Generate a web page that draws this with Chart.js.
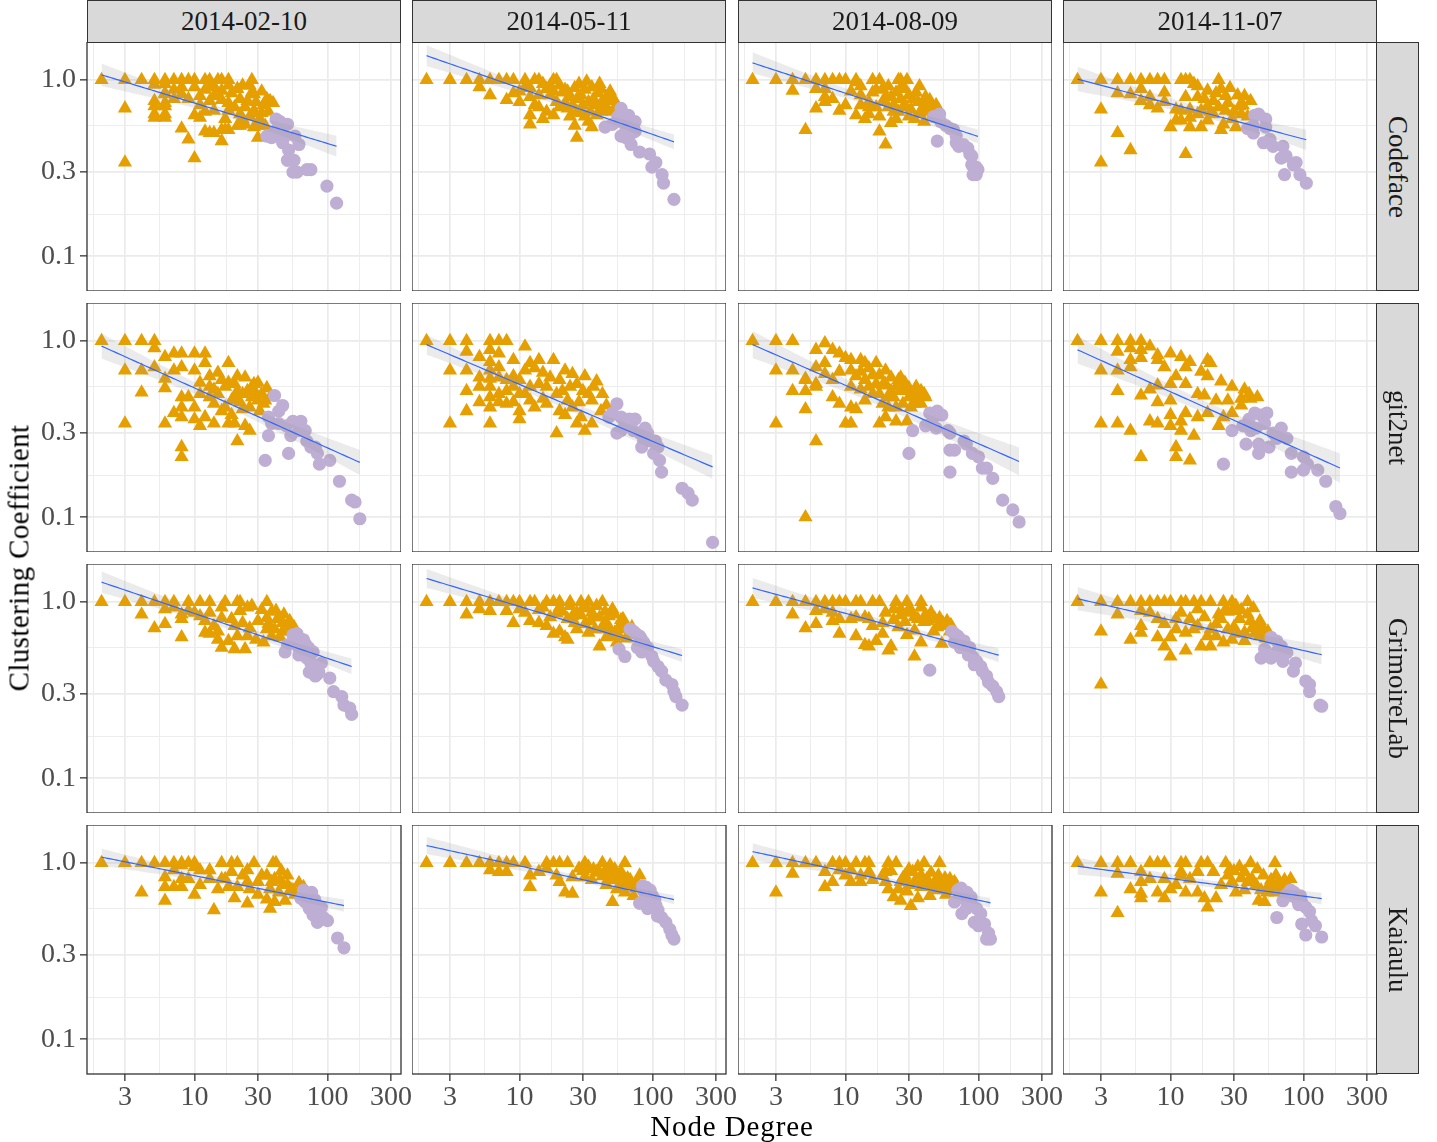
<!DOCTYPE html>
<html>
<head>
<meta charset="utf-8">
<script src="https://cdn.jsdelivr.net/npm/chart.js@4.4.1/dist/chart.umd.min.js"></script>
<style>
  body { margin: 0; background: #fff; width: 1437px; height: 1142px; position: relative; overflow: hidden;
         font-family: "Liberation Serif", serif; }
  .box { position: absolute; }
  .strip { position: absolute; background: #d9d9d9; border: 1.3px solid #333; box-sizing: border-box;
           color: #1a1a1a; font-size: 27px; display: flex; align-items: center; justify-content: center; }
  .strip.side span { writing-mode: vertical-rl; }
  .title { position: absolute; color: #000; font-size: 29px; white-space: nowrap; }
</style>
</head>
<body>
<script>
// facets
const projects = ['Codeface', 'git2net', 'GrimoireLab', 'Kaiaulu'];
const dates = ['2014-02-10', '2014-05-11', '2014-08-09', '2014-11-07'];

// axis breaks (log10 scales)
const xTicks = [3, 10, 30, 100, 300];
const xMinor = [1.73, 5.48, 17.3, 54.8, 173];
const yTicks = [0.1, 0.3, 1.0];
const yTickLabels = ['0.1', '0.3', '1.0'];
const yMinor = [0.173, 0.548];
const xRange = [1.555, 357];
const yRange = [0.0635, 1.64];

// [degree, clustering] for low degree nodes (triangles) and hubs (circles)
const codeface1Low = [[2,1],[3,1],[4,1],[5,1],[6,1],[7,1],[8,1],[9,1],[10,1],[12,1],[13,1],[15,1],[16,1],[18,1],[27,1],
  [3,0.69],[3,0.34],[10,0.36],[5,0.94],[6,0.95],[6,0.84],[5,0.76],[6,0.74],[5,0.64],[6,0.64],[7,0.88],[8,0.91],[8,0.83],
  [7,0.78],[9,0.78],[10,0.91],[11,0.81],[13,0.91],[14,0.81],[16,0.87],[18,0.93],[21,0.89],[23,0.93],[26,0.93],[28,0.83],
  [32,0.86],[35,0.78],[39,0.74],[13,0.76],[16,0.77],[18,0.74],[22,0.78],[25,0.76],[10,0.63],[11,0.61],[12,0.66],[14,0.67],
  [18,0.67],[22,0.64],[28,0.65],[32,0.65],[8,0.53],[9,0.46],[12,0.51],[13,0.5],[16,0.45],[17,0.52],[21,0.55],[24,0.56],
  [28,0.54],[30,0.47],[5,0.71],[5,0.61],[6,0.61],[6,0.71],[6,0.83],[30,0.55],[37,0.76],[28,0.67],[14,0.5],[16,0.52],
  [18,0.52],[22,0.55],[11,0.72],[12,0.88],[14,0.92],[15,0.83],[17,0.6],[19,0.84],[20,0.7],[23,0.6],[24,0.7],[26,0.62],
  [27,0.85],[29,0.75],[31,0.6],[33,0.72],[34,0.55],[36,0.66]];
const codeface1Hub = [[35,0.48],[38,0.47],[40,0.5],[41,0.6],[43,0.55],[44,0.58],[50,0.56],[48,0.48],[57,0.48],[61,0.43],
  [46,0.44],[51,0.4],[50,0.35],[56,0.35],[55,0.3],[59,0.3],[70,0.31],[75,0.31],[99,0.25],[117,0.2]];

const codeface2Low = [[2,1],[3,1],[4,1],[5,1],[6,1],[7,1],[8,1],[9,1],[11,1],[13,1],[14,1],[18,1],[19,1],
  [5,0.91],[6,0.82],[8,0.77],[10,0.75],[12,0.63],[12,0.56],[15,0.6],[18,0.63],[27,0.47],[35,0.54],[23,0.69],[29,0.82],
  [35,0.91],[41,0.89],[49,0.78],[54,0.72],[33,0.75],[41,0.66],[23,0.86],[20,0.93],[16,0.89],[14,0.82],[10,0.86],[9,0.84],
  [11,0.91],[13,0.72],[19,0.75],[27,0.66],[31,0.62],[38,0.63],[44,0.72],[50,0.66],[15,0.95],[17,0.93],[21,0.85],[24,0.8],
  [26,0.9],[30,0.72],[36,0.78],[45,0.8],[22,0.74],[17,0.82],[12,0.8],[28,0.95],[32,0.98],[40,0.95],
  [12,0.9],[14,0.7],[16,0.66],[18,0.86],[20,0.7],[22,0.88],[24,0.62],[25,0.72],[27,0.78],[29,0.65],[31,0.88],[34,0.66],
  [37,0.72],[39,0.84],[42,0.76],[46,0.68],[48,0.86],[52,0.76],[33,0.58],[26,0.55]];
const codeface2Hub = [[58,0.69],[60,0.6],[67,0.55],[74,0.51],[44,0.54],[54,0.58],[63,0.47],[58,0.48],[69,0.43],[80,0.39],
  [95,0.38],[106,0.34],[99,0.32],[118,0.29],[121,0.26],[145,0.21],[50,0.56],[66,0.63],[74,0.58],[63,0.52],
  [55,0.62],[62,0.58],[65,0.55],[70,0.5],[72,0.54]];

const codeface3Low = [[2,1],[3,1],[4,1],[5,1],[6,1],[7,1],[8,1],[9,1],[10,1],[12,1],[16,1],[18,1],[25,1],[26,1],[29,1],
  [4,0.87],[6,0.69],[9,0.67],[5,0.52],[6,0.89],[7,0.8],[7,0.75],[8,0.78],[10,0.72],[7,0.89],[12,0.97],[14,0.6],[12,0.63],
  [15,0.64],[13,0.82],[16,0.85],[19,0.89],[18,0.51],[20,0.43],[22,0.57],[23,0.66],[26,0.78],[28,0.89],[30,0.82],[35,0.75],
  [39,0.72],[43,0.77],[48,0.72],[39,0.58],[33,0.6],[25,0.66],[23,0.72],[19,0.75],[15,0.75],[13,0.72],[20,0.8],[24,0.85],
  [27,0.7],[31,0.68],[34,0.85],[36,0.65],[42,0.68],[17,0.7],[21,0.92],[45,0.62],
  [11,0.86],[13,0.92],[15,0.7],[17,0.88],[18,0.62],[21,0.7],[22,0.8],[24,0.6],[26,0.9],[28,0.72],[30,0.62],[32,0.78],
  [36,0.92],[38,0.66],[40,0.8],[44,0.7],[47,0.64],[50,0.68]];
const codeface3Hub = [[46,0.62],[51,0.64],[52,0.58],[57,0.55],[61,0.53],[65,0.52],[68,0.48],[49,0.45],[68,0.44],[71,0.42],
  [77,0.43],[83,0.41],[86,0.38],[89,0.37],[89,0.33],[96,0.32],[96,0.29],[99,0.31],[91,0.29]];

const codeface4Low = [[2,1],[3,1],[4,1],[5,1],[6,1],[7,1],[8,1],[9,1],[13,1],[14,1],[23,1],
  [3,0.68],[4,0.5],[5,0.4],[3,0.34],[13,0.38],[4,0.84],[5,0.83],[6,0.89],[6,0.76],[7,0.72],[8,0.69],[7,0.8],[9,0.85],
  [9,0.75],[11,0.68],[11,0.59],[10,0.54],[12,0.67],[14,0.54],[14,0.61],[12,1],[15,0.95],[16,0.8],[17,0.67],[17,0.54],
  [19,0.59],[21,0.76],[24,0.89],[26,0.81],[24,0.52],[25,0.56],[26,0.67],[29,0.6],[31,0.54],[33,0.71],[36,0.81],[34,0.64],
  [21,0.64],[19,0.71],[19,0.87],[16,0.64],[12,0.59],[14,0.68],[13,0.8],
  [16,0.92],[18,0.78],[20,0.66],[22,0.84],[23,0.7],[27,0.74],[28,0.9],[30,0.66],[32,0.82],[35,0.72],[38,0.62],[40,0.76]];
const codeface4Hub = [[43,0.63],[52,0.6],[42,0.55],[38,0.53],[42,0.5],[50,0.44],[56,0.46],[59,0.42],[70,0.42],[74,0.37],
  [68,0.36],[88,0.34],[84,0.33],[72,0.29],[94,0.29],[105,0.26],[46,0.64],[52,0.54]];

const git2net1Low = [[2,1],[3,1],[4,1],[5,1],[5,0.91],[6,0.81],[7,0.85],[8,0.85],[10,0.85],[12,0.85],[3,0.68],[4,0.68],
  [5,0.71],[6,0.61],[6,0.54],[4,0.51],[3,0.34],[6,0.34],[8,0.37],[8,0.25],[8,0.22],[7,0.68],[8,0.71],[10,0.68],[12,0.75],
  [13,0.63],[14,0.53],[18,0.75],[21,0.63],[28,0.57],[35,0.54],[30,0.46],[27,0.48],[23,0.41],[20,0.34],[24,0.33],[26,0.31],
  [21,0.27],[18,0.34],[14,0.34],[11,0.33],[10,0.36],[10,0.42],[8,0.42],[7,0.39],[8,0.48],[9,0.48],[11,0.5],[13,0.48],
  [14,0.44],[17,0.42],[19,0.46],[12,0.37],[33,0.44],[37,0.48],[13,0.55],[16,0.6],[20,0.57],[23,0.5],[29,0.5],[15,0.5],
  [17,0.55],[22,0.45],[25,0.52],[26,0.42],[31,0.4],[16,0.4],[19,0.38],[11,0.58],[15,0.66],
  [18,0.58],[20,0.48],[24,0.62],[27,0.55],[30,0.58],[32,0.5],[34,0.46],[21,0.52]];
const git2net1Hub = [[40,0.49],[46,0.43],[43,0.4],[36,0.37],[38,0.34],[36,0.29],[34,0.21],[43,0.34],[49,0.33],[55,0.35],
  [63,0.35],[53,0.29],[61,0.31],[68,0.31],[70,0.27],[75,0.25],[81,0.25],[84,0.23],[51,0.23],[87,0.2],[104,0.21],[123,0.16],
  [152,0.125],[161,0.122],[175,0.098]];

const git2net2Low = [[2,1],[3,1],[4,1],[6,1],[7,1],[8,1],[4,0.87],[3,0.68],[4,0.68],[4,0.52],[3,0.34],[6,0.34],[11,0.93],
  [6,0.89],[7,0.85],[6,0.76],[5,0.81],[6,0.68],[6,0.61],[6,0.55],[6,0.48],[8,0.44],[10,0.4],[10,0.36],[9,0.63],[9,0.55],
  [12,0.75],[14,0.78],[18,0.78],[22,0.68],[25,0.65],[31,0.63],[38,0.59],[13,0.42],[16,0.44],[20,0.4],[19,0.3],[27,0.34],
  [31,0.31],[35,0.34],[41,0.4],[45,0.43],[29,0.37],[23,0.46],[14,0.57],[16,0.55],[19,0.5],[11,0.5],[12,0.46],[20,0.6],
  [27,0.57],[33,0.5],[35,0.46],[11,0.68],[9,0.78],[15,0.66],[7,0.71],[10,0.6],[13,0.7],[17,0.62],[21,0.52],[24,0.55],
  [28,0.45],[30,0.52],[36,0.55],[42,0.5],[15,0.47],[22,0.38],[25,0.42],[5,0.55],[7,0.5],[8,0.6],[9,0.45],[10,0.5],
  [12,0.55],[7,0.62],[8,0.52],[5,0.45],[4,0.4],[6,0.42],[7,0.45],[5,0.62]];
const git2net2Hub = [[54,0.44],[50,0.39],[58,0.37],[67,0.36],[74,0.36],[54,0.3],[58,0.31],[80,0.3],[86,0.27],[98,0.27],
  [83,0.25],[102,0.23],[113,0.21],[117,0.18],[167,0.146],[185,0.137],[199,0.125],[283,0.072],[47,0.37],[62,0.34],[72,0.31],
  [88,0.32],[92,0.3],[105,0.27],[110,0.25]];

const git2net3Low = [[2,1],[3,1],[4,1],[3,0.68],[4,0.68],[5,0.61],[6,0.55],[4,0.52],[5,0.52],[3,0.34],[5,0.41],[6,0.27],
  [5,0.1],[6,0.89],[7,0.97],[8,0.89],[9,0.85],[10,0.8],[11,0.78],[13,0.78],[14,0.75],[17,0.75],[20,0.68],[6,0.71],[7,0.75],
  [7,0.65],[8,0.6],[9,0.67],[11,0.68],[12,0.63],[13,0.67],[14,0.6],[17,0.57],[20,0.57],[25,0.6],[28,0.53],[35,0.5],
  [39,0.5],[8,0.48],[9,0.44],[11,0.42],[12,0.41],[10,0.34],[11,0.34],[18,0.34],[20,0.37],[24,0.35],[29,0.35],[27,0.44],
  [23,0.48],[33,0.44],[19,0.44],[14,0.46],[13,0.53],[11,0.55],[6,0.57],[5,0.6],[18,0.5],[21,0.42],[35,0.46],[16,0.64],
  [22,0.62],[26,0.52],[30,0.48],[15,0.55],[24,0.42],[31,0.42],[37,0.44],
  [15,0.7],[18,0.64],[19,0.56],[22,0.52],[24,0.55],[26,0.62],[28,0.58],[30,0.54],[32,0.5],[34,0.55],[37,0.52],[40,0.48],
  [16,0.5],[21,0.48]];
const git2net3Hub = [[43,0.39],[49,0.4],[53,0.38],[44,0.34],[48,0.32],[40,0.33],[32,0.31],[59,0.31],[61,0.3],[78,0.27],
  [81,0.26],[66,0.24],[61,0.24],[30,0.23],[90,0.23],[100,0.22],[107,0.19],[115,0.19],[61,0.18],[128,0.166],[152,0.125],
  [181,0.11],[202,0.094],[46,0.37]];

const git2net4Low = [[2,1],[3,1],[4,1],[5,1],[6,1],[4,0.87],[3,0.68],[4,0.68],[5,0.71],[4,0.52],[3,0.34],[4,0.34],[5,0.31],
  [6,0.22],[11,0.22],[14,0.21],[11,0.25],[6,0.89],[7,0.93],[5,0.91],[6,0.8],[8,0.83],[5,0.78],[10,0.85],[12,0.81],[14,0.76],
  [20,0.75],[17,0.67],[19,0.63],[24,0.59],[29,0.55],[36,0.53],[39,0.5],[40,0.47],[6,0.49],[7,0.53],[8,0.56],[10,0.57],
  [11,0.63],[13,0.57],[8,0.45],[10,0.46],[7,0.35],[8,0.34],[10,0.33],[10,0.38],[12,0.35],[12,0.31],[13,0.39],[15,0.29],
  [16,0.37],[19,0.39],[23,0.33],[25,0.37],[29,0.39],[34,0.43],[27,0.46],[22,0.46],[18,0.49],[16,0.5],[19,0.78],[13,0.71],
  [9,0.71],[8,0.78],[45,0.48],[34,0.47]];
const git2net4Hub = [[29,0.31],[35,0.33],[39,0.36],[43,0.39],[48,0.38],[53,0.39],[51,0.34],[40,0.31],[37,0.26],[46,0.26],
  [46,0.23],[55,0.25],[59,0.3],[68,0.32],[75,0.28],[81,0.23],[100,0.22],[107,0.2],[100,0.185],[81,0.18],[128,0.185],
  [147,0.16],[25,0.2],[175,0.115],[188,0.105],[44,0.32],[63,0.28]];

const grimoire1Low = [[2,1],[3,1],[4,1],[5,1],[6,1],[7,1],[9,1],[11,1],[13,1],[17,1],[21,1],[22,1],[35,1],
  [4,0.85],[5,0.71],[6,0.75],[8,0.63],[6,0.91],[7,0.93],[8,0.85],[9,0.89],[11,0.83],[12,0.78],[14,0.73],[15,0.68],[15,0.61],
  [16,0.55],[18,0.6],[20,0.54],[24,0.54],[21,0.64],[26,0.71],[30,0.78],[35,0.81],[41,0.89],[46,0.76],[49,0.73],[53,0.68],
  [38,0.64],[33,0.59],[29,0.61],[35,0.7],[19,0.8],[22,0.89],[25,0.93],[16,0.93],[13,0.87],[16,0.81],[20,0.73],[23,0.76],
  [25,0.64],[44,0.63],[46,0.68],[10,0.87],[8,0.8],[12,0.67],[13,0.66],[27,0.95],[32,0.9],[38,0.88],[42,0.8],[47,0.85],
  [52,0.78],[56,0.72],[36,0.75],[40,0.7]];
const grimoire1Hub = [[59,0.66],[66,0.61],[57,0.59],[61,0.55],[50,0.57],[48,0.52],[61,0.5],[70,0.48],[75,0.45],[90,0.45],
  [73,0.4],[84,0.39],[86,0.4],[104,0.37],[111,0.31],[128,0.29],[133,0.26],[147,0.25],[152,0.23],[66,0.54],[81,0.38],
  [55,0.65],[62,0.62],[68,0.58],[72,0.55],[78,0.52]];

const grimoire2Low = [[2,1],[3,1],[4,1],[5,1],[6,1],[7,1],[8,1],[9,1],[10,1],[12,1],[13,1],[16,1],[18,1],[20,1],[24,1],
  [29,1],[33,1],[42,1],[4,0.85],[5,0.91],[6,0.89],[8,0.89],[9,0.76],[12,0.78],[14,0.76],[16,0.73],[18,0.66],[20,0.68],
  [22,0.63],[23,0.61],[27,0.7],[31,0.75],[35,0.87],[41,0.7],[45,0.63],[40,0.56],[54,0.59],[58,0.79],[50,0.91],[63,0.73],
  [67,0.67],[50,0.64],[45,0.76],[33,0.67],[25,0.83],[19,0.86],[15,0.93],[11,0.87],[10,0.91],[27,0.87],[38,0.95],[47,0.83],
  [30,0.92],[36,0.82],[44,0.88],[52,0.85],[56,0.72],[60,0.8],[70,0.72],
  [14,0.9],[17,0.82],[21,0.88],[23,0.8],[26,0.76],[29,0.84],[32,0.92],[34,0.78],[37,0.7],[40,0.82],[43,0.74],[48,0.7],
  [52,0.67],[56,0.64],[60,0.7],[64,0.62],[20,0.93],[24,0.95]];
const grimoire2Hub = [[72,0.68],[80,0.64],[86,0.59],[92,0.55],[83,0.52],[99,0.49],[102,0.46],[62,0.49],[56,0.54],[110,0.43],
  [117,0.405],[126,0.36],[140,0.34],[145,0.31],[150,0.29],[167,0.26],[77,0.55],[68,0.7],[75,0.66],[82,0.62]];

const grimoire3Low = [[2,1],[3,1],[4,1],[5,1],[6,1],[7,1],[8,1],[9,1],[10,1],[12,1],[13,1],[16,1],[18,1],[24,1],[29,1],
  [37,1],[4,0.85],[5,0.71],[6,0.75],[6,0.89],[7,0.91],[8,0.87],[9,0.8],[9,0.66],[8,0.78],[11,0.8],[12,0.64],[14,0.57],
  [15,0.56],[17,0.6],[21,0.53],[22,0.56],[16,0.73],[19,0.76],[23,0.91],[26,0.91],[29,0.87],[35,0.8],[37,0.93],[44,0.87],
  [51,0.81],[57,0.73],[61,0.68],[53,0.58],[33,0.49],[37,0.59],[29,0.65],[25,0.72],[23,0.79],[20,0.87],[14,0.82],[12,0.82],
  [15,0.8],[39,0.77],[46,0.68],[49,0.72],[33,0.69],[19,0.66],[28,0.77],[31,0.9],[40,0.85],[42,0.78],[47,0.8],[54,0.76],
  [58,0.78],[62,0.74],[33,0.82],[26,0.84]];
const grimoire3Hub = [[63,0.68],[70,0.64],[75,0.6],[81,0.54],[90,0.49],[97,0.46],[104,0.43],[107,0.405],[115,0.38],
  [119,0.35],[128,0.333],[137,0.31],[142,0.29],[73,0.55],[84,0.5],[43,0.41],[66,0.59],[93,0.44],[66,0.66],[72,0.62],
  [78,0.6],[86,0.55]];

const grimoire4Low = [[2,1],[3,1],[4,1],[5,1],[6,1],[7,1],[8,1],[9,1],[10,1],[12,1],[13,1],[15,1],[17,1],[20,1],[25,1],
  [29,1],[38,1],[3,0.68],[3,0.34],[4,0.85],[5,0.61],[6,0.89],[6,0.73],[6,0.67],[7,0.87],[8,0.8],[8,0.63],[9,0.56],[10,0.49],
  [10,0.63],[11,0.7],[13,0.53],[9,0.75],[11,0.8],[12,0.87],[14,0.8],[16,0.91],[17,0.56],[20,0.56],[22,0.75],[23,0.85],
  [26,0.91],[29,0.89],[33,0.8],[38,0.85],[41,0.71],[47,0.78],[36,0.67],[29,0.61],[25,0.59],[19,0.64],[15,0.7],[47,0.64],
  [54,0.68],[36,0.6],[27,0.7],[16,0.73],[13,0.67],
  [18,0.82],[20,0.7],[22,0.64],[24,0.8],[27,0.88],[30,0.72],[32,0.66],[34,0.9],[40,0.78],[43,0.66],[45,0.72],[50,0.7],
  [52,0.62],[31,0.95],[42,0.92]];
const grimoire4Hub = [[57,0.63],[63,0.6],[68,0.56],[75,0.515],[48,0.48],[57,0.48],[70,0.46],[87,0.45],[84,0.405],[104,0.356],
  [111,0.34],[111,0.31],[133,0.26],[137,0.256],[51,0.54],[63,0.52]];

const kaiaulu1Low = [[2,1],[3,1],[4,1],[5,1],[6,1],[7,1],[8,1],[9,1],[10,1],[16,1],[19,1],[21,1],[28,1],[39,1],[41,1],
  [4,0.68],[6,0.61],[6,0.73],[7,0.73],[8,0.73],[10,0.66],[11,0.75],[14,0.54],[6,0.83],[7,0.91],[8,0.97],[10,0.95],[11,0.91],
  [13,0.91],[16,0.81],[15,0.71],[18,0.73],[20,0.63],[23,0.85],[25,0.91],[25,0.78],[26,0.71],[25,0.59],[30,0.78],[32,0.85],
  [37,0.71],[37,0.55],[40,0.6],[43,0.68],[48,0.61],[53,0.71],[57,0.66],[66,0.73],[35,0.62],[30,0.66],[21,0.73],[17,0.81],
  [13,0.81],[9,0.81],[8,0.81],[19,0.89],[40,0.81],[46,0.75],[61,0.77],[35,0.85],[38,0.78],[44,0.8],[50,0.75],[55,0.7],
  [60,0.68],[45,0.9],[50,0.85]];
const kaiaulu1Hub = [[70,0.67],[75,0.63],[68,0.6],[81,0.59],[73,0.55],[87,0.53],[78,0.505],[93,0.49],[100,0.47],[84,0.46],
  [63,0.63],[90,0.56],[119,0.375],[133,0.33],[66,0.7],[72,0.66],[76,0.68],[80,0.62]];

const kaiaulu2Low = [[2,1],[3,1],[4,1],[5,1],[6,1],[7,1],[8,1],[9,1],[11,1],[16,1],[18,1],[20,1],[23,1],[31,1],[42,1],
  [62,1],[7,0.89],[8,0.89],[6,0.91],[12,0.73],[12,0.85],[14,0.89],[16,0.93],[20,0.78],[22,0.68],[25,0.67],[25,0.83],
  [31,0.83],[38,0.89],[45,0.75],[50,0.6],[54,0.71],[62,0.68],[72,0.65],[80,0.85],[58,0.89],[50,0.85],[35,0.8],[46,0.8],
  [67,0.77],[19,0.85],[28,0.93],[48,0.97],[30,0.9],[33,0.95],[36,0.92],[40,0.88],[44,0.9],[52,0.92],[56,0.85],[60,0.8],
  [65,0.82],[70,0.75],[75,0.72],[42,0.84],[48,0.88],[54,0.8],[58,0.75],[64,0.74],[68,0.8],[76,0.78]];
const kaiaulu2Hub = [[89,0.73],[95,0.67],[99,0.61],[106,0.575],[110,0.54],[117,0.49],[126,0.46],[135,0.42],[140,0.39],
  [145,0.37],[80,0.59],[92,0.55],[102,0.6],[109,0.5],[85,0.7],[88,0.66],[93,0.63],[97,0.64],[84,0.74],[86,0.72],
  [90,0.69],[94,0.66],[96,0.7],[100,0.65],[104,0.62]];

const kaiaulu3Low = [[2,1],[3,1],[4,1],[5,1],[6,1],[8,1],[9,1],[10,1],[12,1],[14,1],[15,1],[21,1],[24,1],[39,1],[51,1],
  [4,0.87],[3,0.68],[7,0.73],[8,0.78],[7,0.89],[9,0.91],[10,0.85],[11,0.91],[13,0.85],[15,0.89],[19,0.85],[20,0.78],
  [21,0.71],[23,0.64],[26,0.61],[31,0.57],[35,0.63],[43,0.65],[46,0.75],[53,0.71],[57,0.66],[61,0.81],[66,0.78],[41,0.81],
  [37,0.73],[30,0.75],[26,0.78],[25,0.71],[29,0.69],[37,0.85],[32,0.89],[13,0.78],[16,0.8],[11,0.78],[20,0.89],[28,0.85],
  [53,0.78],[22,0.9],[27,0.82],[33,0.78],[38,0.8],[42,0.76],[47,0.7],[50,0.85],[55,0.74],[59,0.7],[63,0.72],
  [44,0.88],[48,0.8],[56,0.82],[60,0.75],[64,0.7],[68,0.75],[30,0.92],[35,0.95]];
const kaiaulu3Hub = [[70,0.7],[78,0.655],[84,0.61],[90,0.575],[97,0.55],[104,0.515],[93,0.46],[100,0.44],[111,0.45],
  [119,0.4],[123,0.37],[75,0.515],[115,0.37],[66,0.6],[81,0.55],[72,0.68],[76,0.64],[80,0.62],[86,0.6],[74,0.72],
  [82,0.68],[88,0.64]];

const kaiaulu4Low = [[2,1],[3,1],[4,1],[5,1],[7,1],[8,1],[9,1],[12,1],[13,1],[17,1],[19,1],[26,1],[40,1],[61,1],
  [4,0.87],[3,0.68],[4,0.52],[5,0.71],[6,0.89],[6,0.78],[7,0.81],[6,0.67],[6,0.63],[8,0.68],[9,0.81],[10,0.71],[9,0.63],
  [11,0.75],[12,0.89],[14,0.81],[16,0.68],[18,0.63],[19,0.56],[22,0.63],[24,0.75],[27,0.85],[29,0.78],[36,0.89],[41,0.81],
  [46,0.61],[51,0.6],[36,0.7],[31,0.68],[55,0.75],[62,0.85],[72,0.8],[80,0.81],[53,0.68],[62,0.68],[21,0.89],[16,0.89],
  [13,0.68],[12,0.85],[30,0.9],[34,0.82],[38,0.78],[44,0.75],[48,0.7],[58,0.72],[66,0.75],[68,0.7],
  [45,0.92],[50,0.85],[57,0.8],[64,0.76],[70,0.72],[75,0.75],[33,0.95],[28,0.92]];
const kaiaulu4Hub = [[78,0.68],[87,0.64],[97,0.6],[104,0.56],[111,0.53],[115,0.47],[123,0.44],[70,0.61],[63,0.49],
  [97,0.45],[104,0.39],[137,0.38],[74,0.66],[82,0.65],[90,0.62],[92,0.58],[80,0.7],[85,0.68],[95,0.65]];

// panel table: rows = projects, cols = dates
const panels = [
  [[codeface1Low, codeface1Hub], [codeface2Low, codeface2Hub], [codeface3Low, codeface3Hub], [codeface4Low, codeface4Hub]],
  [[git2net1Low, git2net1Hub], [git2net2Low, git2net2Hub], [git2net3Low, git2net3Hub], [git2net4Low, git2net4Hub]],
  [[grimoire1Low, grimoire1Hub], [grimoire2Low, grimoire2Hub], [grimoire3Low, grimoire3Hub], [grimoire4Low, grimoire4Hub]],
  [[kaiaulu1Low, kaiaulu1Hub], [kaiaulu2Low, kaiaulu2Hub], [kaiaulu3Low, kaiaulu3Hub], [kaiaulu4Low, kaiaulu4Hub]]
];

// layout
const colLeft = [87, 412, 738, 1063];
const rowTop = [42, 303, 564, 825];
const PW = 314, PH = 249;

Chart.defaults.font.family = "'Liberation Serif', serif";

// lm fit of log10(y) ~ log10(x) with 95% band, like geom_smooth(method = "lm")
function lmBand(pts) {
  const lx = pts.map(p => Math.log10(p[0]));
  const ly = pts.map(p => Math.log10(p[1]));
  const n = lx.length;
  const mx = lx.reduce((a, b) => a + b, 0) / n;
  const my = ly.reduce((a, b) => a + b, 0) / n;
  let sxx = 0, sxy = 0;
  for (let i = 0; i < n; i++) { sxx += (lx[i] - mx) ** 2; sxy += (lx[i] - mx) * (ly[i] - my); }
  const b = sxy / sxx, a = my - b * mx;
  let sse = 0;
  for (let i = 0; i < n; i++) sse += (ly[i] - a - b * lx[i]) ** 2;
  const s = Math.sqrt(sse / (n - 2));
  const t = 1.96 + 2.4 / (n - 2);
  const lo = Math.min(...lx), hi = Math.max(...lx);
  const fit = [], up = [], dn = [];
  for (let k = 0; k <= 80; k++) {
    const x0 = lo + (hi - lo) * k / 80;
    const f = a + b * x0;
    const se = s * Math.sqrt(1 / n + (x0 - mx) ** 2 / sxx);
    fit.push({x: 10 ** x0, y: 10 ** f});
    up.push({x: 10 ** x0, y: 10 ** (f + t * se)});
    dn.push({x: 10 ** x0, y: 10 ** (f - t * se)});
  }
  return {fit, up, dn};
}

const framePlugin = {
  id: 'frame',
  afterDraw(chart) {
    const {ctx, chartArea: a} = chart;
    ctx.save();
    ctx.strokeStyle = '#333333';
    ctx.lineWidth = 1.3;
    ctx.strokeRect(a.left, a.top, a.right - a.left, a.bottom - a.top);
    ctx.restore();
  }
};

const xLabel = new Map(xTicks.map(v => [v, String(v)]));
const yLabel = new Map(yTicks.map((v, i) => [v, yTickLabels[i]]));

function makePanel(r, c) {
  const isLeft = c === 0, isBottom = r === 3;
  const left = isLeft ? 0 : colLeft[c];
  const padRight = isBottom ? 30 : 0;
  const box = document.createElement('div');
  box.className = 'box';
  box.style.left = left + 'px';
  box.style.top = rowTop[r] + 'px';
  box.style.width = (colLeft[c] + PW - left + padRight) + 'px';
  box.style.height = (PH + (isBottom ? 50 : 0)) + 'px';
  const canvas = document.createElement('canvas');
  box.appendChild(canvas);
  document.body.appendChild(box);

  const [low, hub] = panels[r][c];
  const band = lmBand(low.concat(hub));
  const gridCol = '#ebebeb';

  new Chart(canvas, {
    type: 'line',
    data: {
      datasets: [
        {data: band.fit, borderColor: '#3366ff', borderWidth: 1.2, pointRadius: 0, fill: false, order: 0},
        {data: band.up, borderWidth: 0, borderColor: 'rgba(0,0,0,0)', pointRadius: 0,
         fill: '+1', backgroundColor: 'rgba(153,153,153,0.2)', order: 1},
        {data: band.dn, borderWidth: 0, borderColor: 'rgba(0,0,0,0)', pointRadius: 0, fill: false, order: 1},
        {data: hub.map(p => ({x: p[0], y: p[1]})), showLine: false, pointStyle: 'circle', pointRadius: 6.6,
         pointBorderWidth: 0, pointBackgroundColor: '#beaed4', order: 2},
        {data: low.map(p => ({x: p[0], y: p[1]})), showLine: false, pointStyle: 'triangle', pointRadius: 8.2,
         pointBorderWidth: 0, pointBackgroundColor: '#e69f00', order: 3}
      ]
    },
    options: {
      responsive: true,
      maintainAspectRatio: false,
      animation: false,
      events: [],
      layout: {autoPadding: false, padding: {left: 0, top: 0, bottom: 0, right: padRight}},
      plugins: {legend: {display: false}, tooltip: {enabled: false}},
      scales: {
        x: {
          type: 'logarithmic', min: xRange[0], max: xRange[1], bounds: 'data',
          afterBuildTicks: ax => { ax.ticks = xMinor.concat(xTicks).sort((p, q) => p - q).map(v => ({value: v})); },
          afterFit: s => { s.height = isBottom ? 50 : 0; s.paddingLeft = 0; s.paddingRight = 0; },
          border: {display: false},
          grid: {
            color: gridCol,
            lineWidth: ctx => xLabel.has(ctx.tick.value) ? 1.7 : 0.9,
            drawTicks: isBottom, tickLength: 7, tickWidth: 1.3,
            tickColor: ctx => xLabel.has(ctx.tick.value) ? '#333333' : 'rgba(0,0,0,0)'
          },
          ticks: {
            display: isBottom, autoSkip: false, maxRotation: 0, padding: 3,
            color: '#4d4d4d', font: {size: 28, lineHeight: 1},
            callback: (v, i, ticks) => xLabel.get(ticks[i].value) || ''
          }
        },
        y: {
          type: 'logarithmic', min: yRange[0], max: yRange[1], bounds: 'data',
          afterBuildTicks: ax => { ax.ticks = yMinor.concat(yTicks).sort((p, q) => p - q).map(v => ({value: v})); },
          afterFit: s => { s.width = isLeft ? colLeft[0] : 0; s.paddingTop = 0; s.paddingBottom = 0; },
          border: {display: false},
          grid: {
            color: gridCol,
            lineWidth: ctx => yLabel.has(ctx.tick.value) ? 1.7 : 0.9,
            drawTicks: isLeft, tickLength: 7, tickWidth: 1.3,
            tickColor: ctx => yLabel.has(ctx.tick.value) ? '#333333' : 'rgba(0,0,0,0)'
          },
          ticks: {
            display: isLeft, autoSkip: false, padding: 4,
            color: '#4d4d4d', font: {size: 28, lineHeight: 1},
            callback: (v, i, ticks) => yLabel.get(ticks[i].value) || ''
          }
        }
      }
    },
    plugins: [framePlugin]
  });
}

for (let r = 0; r < 4; r++) for (let c = 0; c < 4; c++) makePanel(r, c);

// facet strips
dates.forEach((d, c) => {
  const s = document.createElement('div');
  s.className = 'strip';
  s.style.left = colLeft[c] + 'px'; s.style.top = '0px';
  s.style.width = PW + 'px'; s.style.height = (rowTop[0] + 1) + 'px';
  s.textContent = d;
  document.body.appendChild(s);
});
projects.forEach((p, r) => {
  const s = document.createElement('div');
  s.className = 'strip side';
  s.style.left = (colLeft[3] + PW - 1) + 'px'; s.style.top = rowTop[r] + 'px';
  s.style.width = '43px'; s.style.height = PH + 'px';
  const t = document.createElement('span');
  t.textContent = p;
  s.appendChild(t);
  document.body.appendChild(s);
});

// axis titles
const xt = document.createElement('div');
xt.className = 'title';
xt.textContent = 'Node Degree';
xt.style.left = colLeft[0] + 'px'; xt.style.width = (colLeft[3] + PW - colLeft[0]) + 'px';
xt.style.textAlign = 'center'; xt.style.top = '1110px'; xt.style.letterSpacing = '0.9px';
document.body.appendChild(xt);

const yt = document.createElement('div');
yt.className = 'title';
yt.textContent = 'Clustering Coefficient';
yt.style.left = '19px'; yt.style.top = ((rowTop[0] + rowTop[3] + PH) / 2) + 'px';
yt.style.transform = 'translate(-50%, -50%) rotate(-90deg)'; yt.style.letterSpacing = '0.4px';
document.body.appendChild(yt);
</script>
</body>
</html>
